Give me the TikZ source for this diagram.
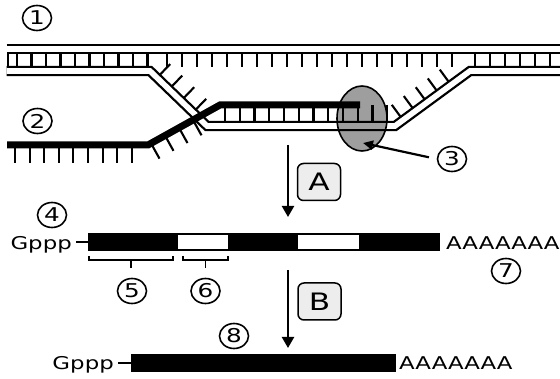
\documentclass[tikz,border=0pt]{standalone}
\usepackage{fontspec}
\setmainfont[FakeStretch=1.3]{DejaVu Sans}
\usetikzlibrary{arrows.meta,shapes.geometric}

\begin{document}
\begin{tikzpicture}[x=1pt,y=-1pt,
  strand/.style={draw=black,line width=2.3pt,double=white,double distance=5.6pt},
  rung/.style={line width=2.1pt},
  rnastrand/.style={line width=7pt},
  num/.style={draw,ellipse,line width=1.6pt,minimum width=29pt,minimum height=25pt,inner sep=0pt,font=\fontsize{19}{19}\selectfont},
  tag/.style={draw,rounded corners=6pt,line width=1.5pt,fill=black!7,minimum width=43pt,minimum height=37pt,inner sep=0pt,font=\fontsize{24}{24}\selectfont},
  txt/.style={inner sep=0pt,font=\fontsize{17.6}{17.6}\selectfont},
  flow/.style={line width=2.2pt,-{Triangle[length=11pt,width=12pt]}},
  pointer/.style={line width=2.2pt,-{Triangle[length=10pt,width=9pt]}},
  tie/.style={line width=2pt},
  brk/.style={line width=1.6pt},
  exon/.style={fill=black,inner sep=0pt,anchor=west},
  intron/.style={fill=white},
]
\useasboundingbox (0,0) rectangle (560,379);

% ---- base-pair rungs (drawn first; the strands cover their ends) ----
\draw[rung] (7.8,49) -- (7.8,71);
\foreach \x in {17,31.5,...,148} \draw[rung] (\x,49) -- (\x,71);
\foreach \x in {167,182,...,452} \draw[rung] (\x,49) -- (\x,67);
\foreach \x in {475,490,...,560} \draw[rung] (\x,49) -- (\x,71);
% template bases inside the bubble
\foreach \x in {225,239.75,...,390} \draw[rung] (\x,105) -- (\x,126);
\foreach \x in {157,169,181,193}{
  \pgfmathsetmacro\yy{71+(\x-150)*0.9649}
  \draw[rung] (\x,\yy) -- ++(13.2,-13.7);}
\foreach \x in {403,415,427,439,451}{
  \pgfmathsetmacro\yy{126-(\x-395)*0.7333}
  \draw[rung] (\x,\yy) -- ++(-11.2,-15.3);}
% RNA bases
\foreach \x in {15,29.6,...,133} \draw[rung] (\x,145) -- (\x,163);
\foreach \x in {151,165,179,193}{
  \pgfmathsetmacro\yy{145-(\x-148)*0.5556}
  \draw[rung] (\x,\yy) -- ++(8.5,15.3);}

% ---- DNA strands ----
\draw[strand] (6.5,49) -- (560,49);
\draw[strand] (6.5,71) -- (150,71) -- (207,126) -- (395,126) -- (470,71) -- (560,71);
% ---- RNA transcript ----
\draw[rnastrand] (7,145) -- (148,145) -- (220,105) -- (360,105);

% ---- polymerase ----
\node[ellipse,draw,line width=1.6pt,fill=black,fill opacity=0.38,
      minimum width=50pt,minimum height=65pt,inner sep=0pt] (pol) at (362,118.5) {};
\coordinate (polmark) at (363,143);

% ---- labels ----
\node[num] (n1) at (37,18) {1};
\node[num] (n2) at (37.5,121) {2};
\node[num] (n3) at (452,159) {3};
\draw[pointer,shorten <=8pt] (n3.west) -- (polmark);

% ---- step A ----
\coordinate (a0) at (288,145);
\coordinate (a1) at (288,217);
\draw[flow] (a0) -- (a1);
\node[tag] (tagA) at (319,182) {A};

% ---- pre-mRNA ----
\node[num] (n4) at (52,215) {4};
\node[exon,minimum width=352pt,minimum height=18pt] (pre) at (88,242) {};
\fill[intron] (178,235.5) rectangle (228,249.5);
\fill[intron] (298,235.5) rectangle (359,249.5);
\node[txt,anchor=base east] (cap1) at (72,250) {Gppp};
\draw[tie] (pre.west) -- ++(-12,0);
\node[txt,anchor=base west] (tail1) at (446,250) {AAAAAAA};
\node[num] (n7) at (506,271) {7};
% brackets under the first exon and the first intron
\draw[brk] (89,256) -- (89,260) -- (173,260) -- (173,256) (131,260) -- (131,268);
\draw[brk] (183,256) -- (183,260) -- (228,260) -- (228,256) (205.5,260) -- (205.5,268);
\node[num] (n5) at (132,291) {5};
\node[num] (n6) at (205.5,291) {6};

% ---- step B ----
\coordinate (b0) at (288,270);
\coordinate (b1) at (288,348);
\draw[flow] (b0) -- (b1);
\node[tag] (tagB) at (319.5,301.5) {B};

% ---- mature mRNA ----
\node[num] (n8) at (234,336) {8};
\node[exon,minimum width=265pt,minimum height=18pt] (mat) at (131,363) {};
\node[txt,anchor=base east] (cap2) at (114,370) {Gppp};
\draw[tie] (mat.west) -- ++(-13,0);
\node[txt,anchor=base west] (tail2) at (399,370) {AAAAAAA};
\end{tikzpicture}
\end{document}
